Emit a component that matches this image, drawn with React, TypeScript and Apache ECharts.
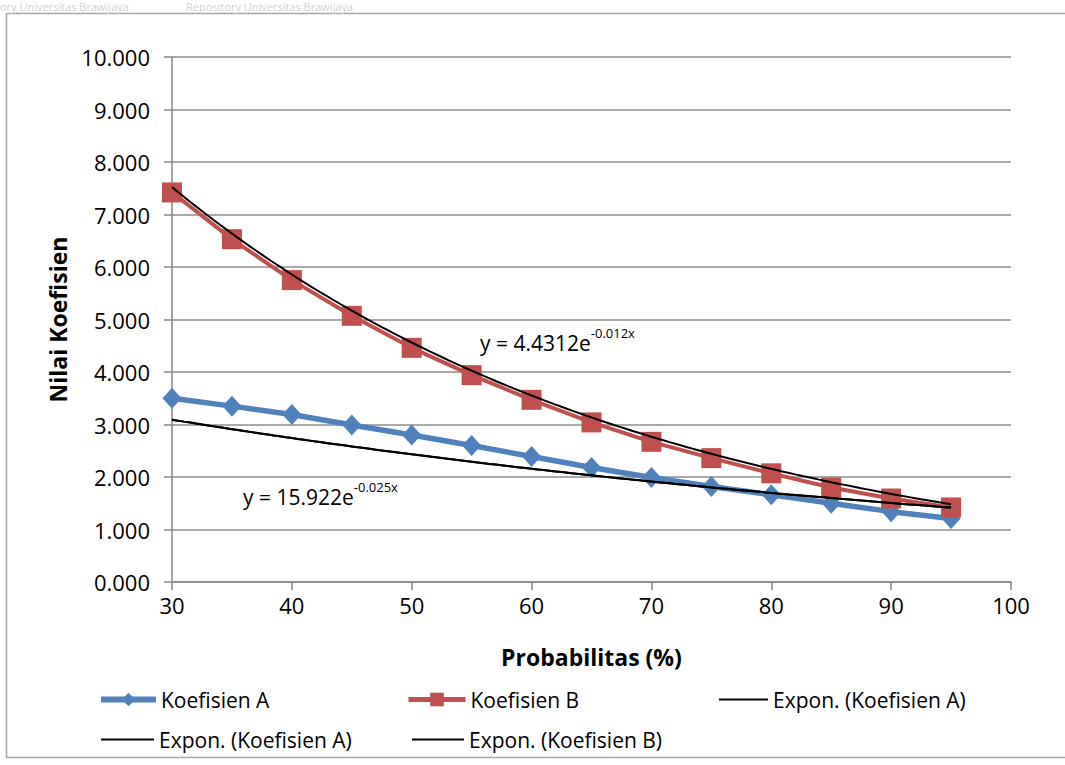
import React, { useEffect, useRef } from "react";
import * as echarts from "echarts";

// Probability levels (%) on the x axis
const probabilitas = [30, 35, 40, 45, 50, 55, 60, 65, 70, 75, 80, 85, 90, 95];
// Coefficient values per probability level
const koefisienA = [3.5, 3.35, 3.19, 2.99, 2.8, 2.6, 2.39, 2.18, 1.99, 1.82, 1.66, 1.5, 1.34, 1.21];
const koefisienB = [7.42, 6.53, 5.75, 5.07, 4.46, 3.94, 3.47, 3.04, 2.67, 2.36, 2.07, 1.8, 1.59, 1.42];

// Exponential trendline coefficients, y = a * e^(b x)
const trendA = { a: 4.4312, b: -0.012 };
const trendB = { a: 15.922, b: -0.025 };

const FONT = "'Open Sans', 'Noto Sans', sans-serif";
const BLUE = "#4F81BD";
const RED = "#C0504D";

function trendPoints(t: { a: number; b: number }) {
  const pts: number[][] = [];
  const x0 = probabilitas[0];
  const x1 = probabilitas[probabilitas.length - 1];
  for (let x = x0; x <= x1; x += 0.5) {
    pts.push([x, t.a * Math.exp(t.b * x)]);
  }
  return pts;
}

const legendText = { fontFamily: FONT, fontSize: 21, color: "#000" };

function legendItem(
  name: string,
  left: number,
  top: number,
  width: number,
  lineWidth: number,
  hideSymbol: boolean
) {
  const item: any = {
    data: [name],
    left,
    top,
    itemWidth: width,
    itemHeight: 17,
    itemGap: 0,
    padding: 0,
    textStyle: legendText,
    selectedMode: false,
    lineStyle: { width: lineWidth },
    formatter: (n: string) => n.replace(/ #\d$/, ""),
  };
  if (hideSymbol) item.itemStyle = { color: "rgba(0,0,0,0)", borderWidth: 0 };
  return item;
}

export default function App() {
  const ref = useRef<HTMLDivElement>(null);

  useEffect(() => {
    if (!ref.current) return;
    const chart = echarts.init(ref.current, null, { renderer: "svg" });

    const dataA = probabilitas.map((x, i) => [x, koefisienA[i]]);
    const dataB = probabilitas.map((x, i) => [x, koefisienB[i]]);

    const eqRich = {
      b: { fontFamily: FONT, fontSize: 21, fill: "#000", verticalAlign: "bottom" },
      s: { fontFamily: FONT, fontSize: 13, fill: "#000", verticalAlign: "top", padding: [0, 0, 14, 0] },
    };

    chart.setOption({
      animation: false,
      backgroundColor: "#ffffff",
      textStyle: { fontFamily: FONT },
      grid: { left: 172, right: 54, top: 57, bottom: 183 },
      xAxis: {
        type: "value",
        min: 30,
        max: 100,
        interval: 10,
        name: "Probabilitas (%)",
        nameLocation: "middle",
        nameGap: 63,
        nameTextStyle: { fontFamily: FONT, fontSize: 23, fontWeight: "bold", color: "#000" },
        axisLine: { show: true, onZero: false, lineStyle: { color: "#868686", width: 1.5 } },
        axisTick: { show: true, inside: false, length: 8, lineStyle: { color: "#868686", width: 1.5 } },
        axisLabel: { margin: 12, fontFamily: FONT, fontSize: 22, color: "#000" },
        splitLine: { show: false },
      },
      yAxis: {
        type: "value",
        min: 0,
        max: 10,
        interval: 1,
        name: "Nilai Koefisien",
        nameLocation: "middle",
        nameGap: 103,
        nameRotate: 90,
        nameTextStyle: { fontFamily: FONT, fontSize: 23, fontWeight: "bold", color: "#000" },
        axisLine: { show: true, lineStyle: { color: "#868686", width: 1.5 } },
        axisTick: { show: true, inside: false, length: 8, lineStyle: { color: "#868686", width: 1.5 } },
        axisLabel: {
          margin: 22,
          fontFamily: FONT,
          fontSize: 22,
          color: "#000",
          formatter: (v: number) => v.toFixed(3),
        },
        splitLine: { show: true, lineStyle: { color: "#8c8c8c", width: 1.5 } },
      },
      legend: [
        legendItem("Koefisien A", 98, 689, 55, 6, false),
        legendItem("Koefisien B", 406, 689, 57, 5, false),
        legendItem("Expon. (Koefisien A)", 718, 689, 49, 2, true),
        legendItem("Expon. (Koefisien A) #2", 100, 729, 53, 2, true),
        legendItem("Expon. (Koefisien B)", 411, 729, 52, 2, true),
      ],
      series: [
        {
          name: "Koefisien A",
          type: "line",
          data: dataA,
          color: BLUE,
          symbol: "diamond",
          symbolSize: [19, 21],
          lineStyle: { color: BLUE, width: 5.5 },
          itemStyle: { color: BLUE },
          z: 2,
        },
        {
          name: "Koefisien B",
          type: "line",
          data: dataB,
          color: RED,
          symbol: "rect",
          symbolSize: 20,
          lineStyle: { color: RED, width: 4 },
          itemStyle: { color: RED },
          z: 2,
        },
        {
          name: "Expon. (Koefisien A)",
          type: "line",
          data: trendPoints(trendA),
          color: "#000",
          showSymbol: false,
          symbol: "none",
          lineStyle: { color: "#000", width: 2 },
          z: 3,
        },
        {
          name: "Expon. (Koefisien A) #2",
          type: "line",
          data: trendPoints(trendA),
          color: "#000",
          showSymbol: false,
          symbol: "none",
          lineStyle: { color: "#000", width: 2 },
          z: 3,
        },
        {
          name: "Expon. (Koefisien B)",
          type: "line",
          data: trendPoints(trendB),
          color: "#000",
          showSymbol: false,
          symbol: "none",
          lineStyle: { color: "#000", width: 2 },
          z: 3,
        },
      ],
      graphic: [
        // chart area frame
        {
          type: "rect",
          z: -1,
          shape: { x: 6.5, y: 13.5, width: 1070, height: 744 },
          style: { fill: "none", stroke: "#a6a6a6", lineWidth: 1.5 },
        },
        {
          type: "text",
          left: 0,
          top: 1,
          style: {
            text: "ory Universitas Brawijaya                    Repository Universitas Brawijaya",
            font: `11px ${FONT}`,
            fill: "#d0d0d0",
          },
        },
        // trendline equations
        {
          type: "text",
          left: 480,
          top: 326,
          style: { text: "{b|y = 4.4312e}{s|-0.012x}", rich: eqRich },
        },
        {
          type: "text",
          left: 243,
          top: 480,
          style: { text: "{b|y = 15.922e}{s|-0.025x}", rich: eqRich },
        },
      ],
    });

    return () => chart.dispose();
  }, []);

  return (
    <div
      ref={ref}
      style={{ position: "fixed", left: 0, top: 0, width: 1065, height: 765, background: "#fff" }}
    />
  );
}
